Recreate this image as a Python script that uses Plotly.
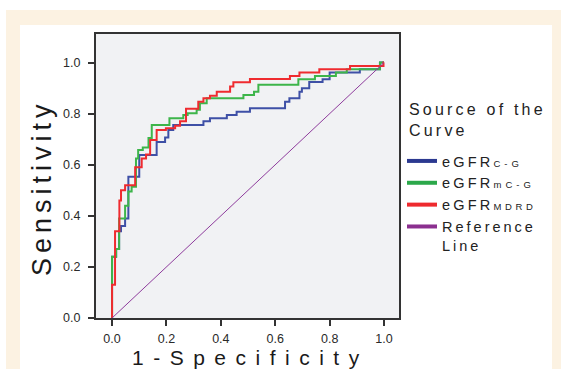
import plotly.graph_objects as go

# ---- data (ROC step vertices: x = 1-specificity, y = sensitivity) ----
cg_x = [0, 0, 0.015, 0.026, 0.033, 0.048, 0.06, 0.10, 0.164, 0.195, 0.207, 0.225, 0.336, 0.36, 0.422, 0.458,
        0.507, 0.636, 0.652, 0.689, 0.698, 0.725, 0.774, 0.80, 0.911, 0.985, 1.0]
cg_y = [0, 0.24, 0.27, 0.34, 0.36, 0.39, 0.553, 0.638, 0.689, 0.707, 0.736, 0.756, 0.77, 0.782, 0.795, 0.808,
        0.821, 0.847, 0.86, 0.886, 0.90, 0.924, 0.935, 0.961, 0.974, 1.0, 1.0]

mcg_x = [0, 0, 0.015, 0.026, 0.048, 0.06, 0.072, 0.088, 0.096, 0.113, 0.134, 0.146, 0.211, 0.262, 0.278, 0.311,
         0.323, 0.348, 0.483, 0.522, 0.538, 0.685, 0.746, 0.823, 0.863, 0.985, 1.0]
mcg_y = [0, 0.24, 0.27, 0.39, 0.44, 0.495, 0.514, 0.625, 0.658, 0.668, 0.705, 0.756, 0.782, 0.795, 0.802, 0.815,
         0.841, 0.86, 0.873, 0.886, 0.913, 0.935, 0.948, 0.961, 0.974, 1.0, 1.0]

mdrd_x = [0, 0, 0.011, 0.027, 0.033, 0.048, 0.085, 0.109, 0.125, 0.14, 0.164, 0.198, 0.232, 0.25, 0.272, 0.317,
          0.336, 0.36, 0.385, 0.434, 0.446, 0.507, 0.654, 0.689, 0.762, 0.875, 0.998, 1.0]
mdrd_y = [0, 0.13, 0.34, 0.46, 0.50, 0.52, 0.59, 0.625, 0.64, 0.697, 0.736, 0.743, 0.753, 0.77, 0.819, 0.847,
          0.86, 0.87, 0.886, 0.906, 0.923, 0.936, 0.948, 0.961, 0.974, 0.987, 1.0, 1.0]

ref_x = [0, 1]
ref_y = [0, 1]

tick_vals = [0, 0.2, 0.4, 0.6, 0.8, 1.0]
tick_text = ["0.0", "0.2", "0.4", "0.6", "0.8", "1.0"]

FONT = "Liberation Sans, Arial, Helvetica, sans-serif"
C_BLUE, C_GREEN, C_RED, C_PURPLE = "#3e50a6", "#3db54a", "#ef2b2f", "#8e3c9c"
L_BLUE, L_GREEN, L_RED, L_PURPLE = "#2b3990", "#2ba84a", "#ee2a2e", "#8b2f8f"


def ls(text, sp, size=None):
    st = f"letter-spacing:{sp}px"
    if size:
        st += f";font-size:{size}px"
    return f'<span style="{st}">{text}</span>'


names = [
    ls("eGFR", 3.2) + ls("C-G", 4, 9.5),
    ls("eGFR", 3.2) + ls("mC-G", 4, 9.5),
    ls("eGFR", 3.2) + ls("MDRD", 3.6, 9.5),
    ls("Reference", 3.0) + "<br>" + ls("Line", 3.0),
]

fig = go.Figure()
for x, y, c in [(cg_x, cg_y, C_BLUE), (mcg_x, mcg_y, C_GREEN), (mdrd_x, mdrd_y, C_RED)]:
    fig.add_trace(go.Scatter(x=x, y=y, mode="lines", line=dict(color=c, width=2, shape="hv"),
                             showlegend=False, hoverinfo="skip"))
fig.add_trace(go.Scatter(x=ref_x, y=ref_y, mode="lines", line=dict(color=C_PURPLE, width=1),
                         showlegend=False, hoverinfo="skip"))
# legend entries
for n, c in zip(names, [L_BLUE, L_GREEN, L_RED, L_PURPLE]):
    fig.add_trace(go.Scatter(x=[None], y=[None], mode="lines", line=dict(color=c, width=4), name=n))

W, H = 561, 369
ML, MR, MT, MB = 96, 162, 34, 51
PW, PH = W - ML - MR, H - MT - MB


def px(xp):
    return (xp - ML) / PW


def py(yp):
    return (H - MB - yp) / PH


shapes = [
    dict(type="rect", xref="paper", yref="paper", x0=px(6), x1=px(561), y0=py(10), y1=py(369),
         fillcolor="#fcf2e2", line=dict(width=0), layer="below"),
    dict(type="rect", xref="paper", yref="paper", x0=px(20), x1=px(552), y0=py(25), y1=py(369),
         fillcolor="#ffffff", line=dict(width=0), layer="below"),
    dict(type="rect", xref="paper", yref="paper", x0=0, x1=1, y0=0, y1=1,
         fillcolor="#f1f2f4", line=dict(width=0), layer="below"),
]

axis_common = dict(showgrid=False, zeroline=False, showline=True, mirror=True, linecolor="#333333",
                   linewidth=2, ticks="outside", ticklen=6, tickwidth=1.5, tickcolor="#333333",
                   tickvals=tick_vals, ticktext=tick_text,
                   tickfont=dict(family=FONT, size=12.5, color="#2a2a2a"))

fig.update_layout(
    width=W, height=H, margin=dict(l=ML, r=MR, t=MT, b=MB, pad=0),
    paper_bgcolor="#ffffff", plot_bgcolor="rgba(0,0,0,0)",
    shapes=shapes,
    xaxis=dict(range=[-0.059, 1.055], ticklabelstandoff=2, **axis_common),
    yaxis=dict(range=[0, 1.112], ticklabelstandoff=5, **axis_common),
    legend=dict(x=px(402), xanchor="left", y=py(145), yanchor="top", bgcolor="rgba(0,0,0,0)",
                valign="top", tracegroupgap=0, itemwidth=30,
                font=dict(family=FONT, size=14.5, color="#222222")),
    annotations=[
        dict(text=ls("Source of the", 3.2) + "<br>" + ls("Curve", 3.2), xref="paper", yref="paper",
             x=px(407), y=py(120), xanchor="left", yanchor="middle", align="left", showarrow=False,
             font=dict(family=FONT, size=16, color="#222222")),
        dict(text=ls("1-Specificity", 9.5), xref="paper", yref="paper", x=px(250), y=py(357),
             xanchor="center", yanchor="middle", showarrow=False,
             font=dict(family=FONT, size=21, color="#1a1a1a")),
        dict(text=ls("Sensitivity", 5), xref="paper", yref="paper", x=px(42), y=py(188),
             xanchor="center", yanchor="middle", showarrow=False, textangle=-90,
             font=dict(family=FONT, size=27, color="#1a1a1a")),
    ],
)

fig.write_html("out.html", config={"displayModeBar": False},
               post_script="document.body.style.margin='0px';")
